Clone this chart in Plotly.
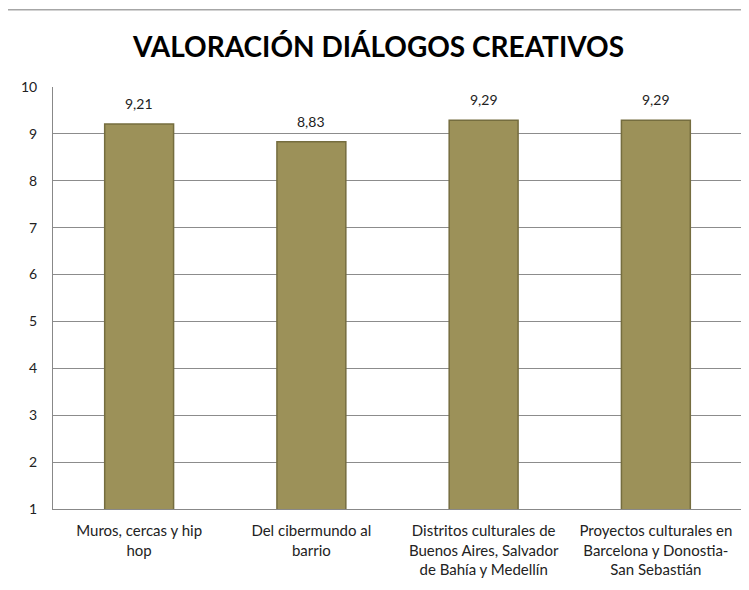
import plotly.graph_objects as go

# data
categorias = [
    "Muros, cercas y hip<br>hop",
    "Del cibermundo al<br>barrio",
    "Distritos culturales de<br>Buenos Aires, Salvador<br>de Bahía y Medellín",
    "Proyectos culturales en<br>Barcelona y Donostia-<br>San Sebastián",
]
valores = [9.21, 8.83, 9.29, 9.29]
ticks_y = [1, 2, 3, 4, 5, 6, 7, 8, 9, 10]

fig = go.Figure(go.Bar(
    x=categorias,
    y=valores,
    width=0.4,
    marker=dict(color="#9C9159", line=dict(color="#756d3f", width=1.5)),
    cliponaxis=True,
))

# value labels above the bars (comma as decimal separator)
for cat, v in zip(categorias, valores):
    fig.add_annotation(x=cat, y=v, text=f"{v:.2f}".replace(".", ","),
                       showarrow=False, yanchor="bottom", yshift=10,
                       font=dict(family="Lato", size=14, color="#222222"))

# outer chart border
fig.add_shape(type="rect", xref="paper", yref="paper",
              x0=-0.067, x1=1.05, y0=-0.4, y1=1.183,
              line=dict(color="#a6a6a6", width=1.5), layer="below")

# the page body adds 8px around the figure, so the figure is 8px smaller
fig.update_layout(
    width=741, height=582,
    margin=dict(l=45, r=7, t=79, b=81),
    paper_bgcolor="white", plot_bgcolor="white",
    font=dict(family="Lato", size=14, color="#222222"),
    title=dict(text="<b>VALORACIÓN DIÁLOGOS CREATIVOS</b>",
               x=0.5, xanchor="center", y=0.932, yanchor="middle",
               font=dict(family="Lato", size=28, color="#000000")),
    showlegend=False,
)
fig.update_xaxes(showgrid=False, showline=True, linecolor="#888888",
                 tickfont=dict(size=15, color="#222222"), ticks="",
                 ticklabelstandoff=8)
fig.update_yaxes(range=[1, 10], tickvals=ticks_y,
                 showgrid=True, gridcolor="#8c8c8c", gridwidth=1,
                 showline=True, linecolor="#888888", zeroline=False,
                 ticks="", ticklabelstandoff=12,
                 tickfont=dict(size=14, color="#222222"))

fig.write_html("out.html")
